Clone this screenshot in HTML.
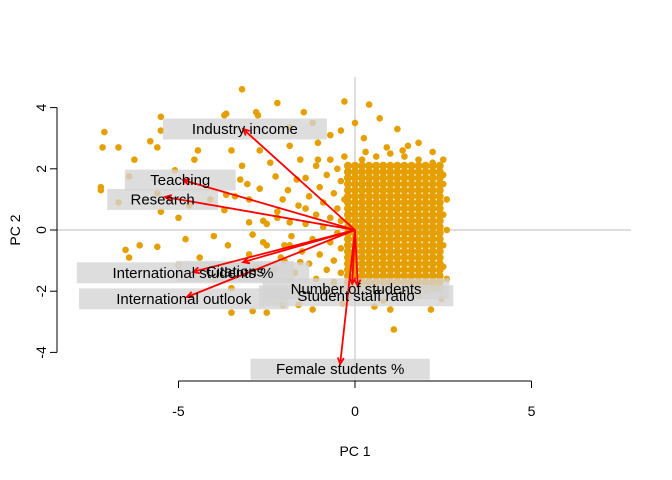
<!DOCTYPE html>
<html><head><meta charset="utf-8"><style>
html,body{margin:0;padding:0;background:#fff}
svg{display:block;font-family:"Liberation Sans",Arial,sans-serif}
</style></head><body>
<svg id="chart" width="672" height="480" viewBox="0 0 672 480" xmlns="http://www.w3.org/2000/svg">
<g id="grid"></g>
<g id="points"></g>
<g id="boxes"></g>
<g id="arrows"></g>
<g id="labels"></g>
<g id="axes"></g>
<text x="355" y="456" font-size="14" text-anchor="middle">PC 1</text>
<text x="20" y="230" font-size="14" text-anchor="middle" transform="rotate(-90 20 230)">PC 2</text>
</svg>
<script>
const xTicks=[-5,0,5];
const yTicks=[-4,-2,0,2,4];
const coreX=[-0.2,0,0.2,0.4,0.6,0.8,1.0,1.2,1.4,1.6,1.8,2.0,2.2,2.4];
const coreY=[-1.9,-1.7,-1.5,-1.3,-1.1,-0.9,-0.7,-0.5,-0.3,-0.1,0.1,0.3,0.5,0.7,0.9,1.1,1.3,1.5,1.7,1.9,2.1];
const scatterPts=[[-3.2,4.6],[-2.2,4.15],[-2.8,3.85],[-1.45,3.85],[-3.65,3.8],[-5.5,3.7],[-3.7,3.75],[-2.75,3.75],
[-7.1,3.2],[-5.5,3.25],[-5.8,2.9],[-6.7,2.7],[-7.15,2.7],[-5.6,2.7],[-6.25,2.3],[-4.55,2.3],[-4.45,2.6],[-3.5,2.6],[-3.2,2.1],[-2.7,2.6],[-2.4,2.2],[-2.25,1.75],
[-6.4,1.75],[-7.2,1.4],[-7.2,1.3],[-6.7,0.9],[-5.6,1.2],[-5.5,0.6],[-5.0,0.4],[-4.8,-0.3],[-5.6,-0.55],[-6.1,-0.5],[-6.5,-0.65],[-6.4,-0.9],[-4.0,-0.2],[-3.6,-0.5],[-3.7,0.65],[-4.1,1.0],[-3.4,1.1],[-3.65,1.15],[-3.0,1.0],[-3.05,1.5],[-3.25,1.65],[-2.7,1.35],[-3.0,0.25],[-2.6,0.3],[-2.9,-0.15],[-2.5,-0.5],[-4.4,-0.9],[-5.0,-1.15],[-4.0,-1.6],[-3.5,-1.9],[-2.9,-2.65],[-2.05,-2.45],[-1.6,-2.45],[-3.5,-2.7],[-2.5,-2.7],[-1.2,-2.6],[0.55,-2.5],[1.0,-2.6],[1.1,-3.25],[2.15,-2.6],[2.45,-2.25],[1.3,-2.0],[1.8,-2.15],
[-0.3,4.2],[0.4,4.1],[0.7,3.65],[1.2,3.3],[0,3.5],[-0.7,3.1],[-1.05,2.85],[-0.4,3.25],[0.25,3.0],[1.35,2.6],[1.8,2.85],[2.5,2.3],[2.5,1.8],[2.2,2.55],[-1.85,3.35],[-1.2,3.5],[-1.85,2.75],[-1.55,2.3],[-1.05,2.3],[-1.65,1.65],[-2.05,1.0],[-2.2,0.4],[-1.85,0.25],[-1.4,0.7],[-1.85,-0.5],[-1.55,-1.05],[-2.0,-1.0],[-5.1,1.95],[-4.7,0.8],
[-0.5,2.0],[-0.8,1.8],[-0.4,1.6],[-1.0,1.4],[-0.6,1.2],[-0.3,1.0],[-1.3,1.1],[-0.9,0.9],[-0.5,0.7],[-1.6,0.8],[-1.1,0.5],[-0.7,0.4],[-0.4,0.3],[-1.4,0.2],[-0.9,0.1],[-0.5,-0.1],[-1.8,-0.2],[-1.2,-0.3],[-0.7,-0.4],[-0.4,-0.6],[-1.5,-0.7],[-1.0,-0.8],[-0.6,-1.0],[-2.1,-0.9],[-1.3,-1.1],[-0.8,-1.3],[-0.4,-1.4],[-1.7,-1.4],[-1.1,-1.6],[-0.6,-1.7],[-2.3,-1.3],[-2.6,-0.4],[-2.2,0.6],[-1.9,1.3],[-1.4,1.7],[-1.1,2.1],[-0.7,2.3],[-0.3,2.4],[-2.8,-1.2],[-3.0,-0.8],[-2.5,0.2],[-2.0,-0.5],[-1.6,-1.9],[-0.9,-2.0],[-0.3,-1.9],[-0.2,-2.2],[0.2,-2.2],[0.6,-2.1],[1.0,-2.1],[1.6,-2.1],[2.0,-2.0],[2.3,-1.9],[2.5,1.5],[2.5,0.5],[2.5,-0.5],[2.5,-1.2],[0.2,2.3],[0.6,2.4],[1.0,2.5],[1.4,2.4],[1.8,2.3],[2.2,2.2],[-0.1,-0.9],[-0.15,0.5],
[0.9,2.7],[1.5,2.75],[0.3,2.55],[2.6,1.0],[2.6,0.0],[2.6,-1.6],[-0.35,-2.4],[0.8,-2.3]];
const varNames=["Industry income","Teaching","Research","Citations","International students %","International outlook","Number of students","Student staff ratio","Female students %"];
const loadX=[-3.17,-4.87,-5.38,-3.17,-4.59,-4.76,-0.08,0.08,-0.42];
const loadY=[3.3,1.63,1.08,-1.05,-1.37,-2.19,-1.76,-1.83,-4.38];
const labelX=[-3.12,-4.95,-5.45,-3.4,-4.59,-4.85,0.03,0.03,-0.42];
const labelY=[3.3,1.63,1.0,-1.35,-1.4,-2.25,-1.92,-2.15,-4.55];

const NS="http://www.w3.org/2000/svg";
function sx(v){return 355+v*35.3;}
function sy(v){return 230-v*30.6;}
function mk(tag,attrs,parent){const e=document.createElementNS(NS,tag);for(const k in attrs)e.setAttribute(k,attrs[k]);parent.appendChild(e);return e;}
const g=document.getElementById('grid'),gp=document.getElementById('points'),gb=document.getElementById('boxes'),gl=document.getElementById('labels'),ga=document.getElementById('arrows'),gx=document.getElementById('axes');

let l=mk('line',{x1:sx(0),x2:sx(0),y1:77,y2:381,stroke:'#bebebe','stroke-width':1},g);


l=mk('line',{x1:57,x2:631,y1:sy(0),y2:sy(0),stroke:'#bebebe','stroke-width':1},g);



function dot(x,y,r){const c=mk('circle',{cx:sx(x),cy:sy(y),r:r,fill:'#E69F00'},gp);

}
coreY.forEach(y=>coreX.forEach(x=>dot(x,y,4)));
scatterPts.forEach(p=>dot(p[0],p[1],3.3));

varNames.forEach((n,i)=>{
  const cx=sx(labelX[i]),cy=sy(labelY[i]);
  const w=n.length*7.6+50;
  const r=mk('rect',{x:cx-w/2,y:cy-10.5,width:w,height:21,fill:'rgba(211,211,211,0.78)'},gb);
  
  
  const t=mk('text',{x:cx,y:cy+5,'font-size':15,'text-anchor':'middle',fill:'#000'},gl);
  t.textContent=n;
  
  
});
varNames.forEach((n,i)=>{
  const x0=sx(0),y0=sy(0),x1=sx(loadX[i]),y1=sy(loadY[i]);
  const a=mk('line',{x1:x0,y1:y0,x2:x1,y2:y1,stroke:'#FF0000','stroke-width':1.8},ga);
  
  
  const ang=Math.atan2(y1-y0,x1-x0),L=7,s=0.45;
  const h=mk('path',{d:`M${x1-L*Math.cos(ang-s)},${y1-L*Math.sin(ang-s)} L${x1},${y1} L${x1-L*Math.cos(ang+s)},${y1-L*Math.sin(ang+s)}`,stroke:'#FF0000','stroke-width':1.8,fill:'none'},ga);
  
  
});

l=mk('line',{x1:sx(xTicks[0]),x2:sx(xTicks[xTicks.length-1]),y1:381,y2:381,stroke:'#000'},gx);


xTicks.forEach(v=>{
  const t=mk('line',{x1:sx(v),x2:sx(v),y1:381,y2:388,stroke:'#000'},gx);
  
  
  const tx=mk('text',{x:sx(v),y:416,'font-size':14,'text-anchor':'middle'},gx);
  tx.textContent=v;
  
  
});
l=mk('line',{x1:57,x2:57,y1:sy(yTicks[0]),y2:sy(yTicks[yTicks.length-1]),stroke:'#000'},gx);


yTicks.forEach(v=>{
  const t=mk('line',{x1:50,x2:57,y1:sy(v),y2:sy(v),stroke:'#000'},gx);
  
  
  const tx=mk('text',{x:46,y:sy(v),'font-size':14,'text-anchor':'middle',transform:`rotate(-90 46 ${sy(v)})`},gx);
  tx.textContent=v;
  
  
});
</script>
</body></html>
